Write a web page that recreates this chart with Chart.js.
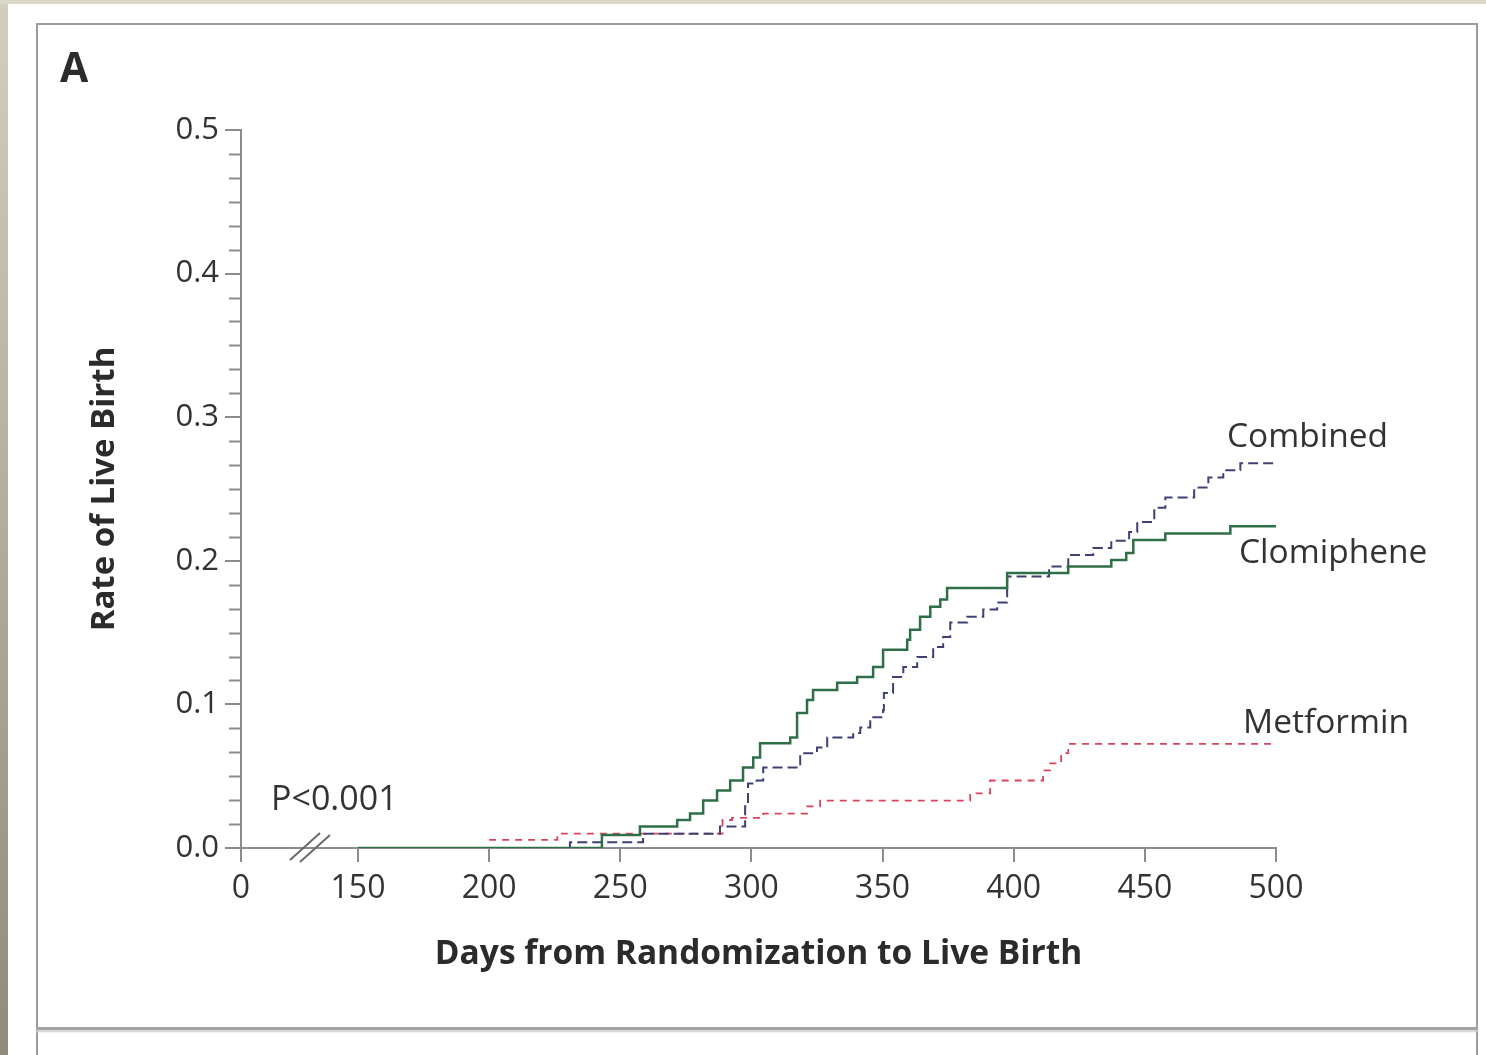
<!DOCTYPE html>
<html lang="en">
<head>
<meta charset="UTF-8">
<title>Rate of Live Birth</title>
<script src="https://cdn.jsdelivr.net/npm/chart.js"></script>
<style>
    html, body { margin: 0; padding: 0; }
    body {
        width: 1486px;
        height: 1055px;
        position: relative;
        overflow: hidden;
        background: #fff;
        font-family: "Open Sans", sans-serif;
    }
    .strip-left { position: absolute; left: 0; top: 0; width: 8px; height: 1055px; background: linear-gradient(#d3cfbf, #8f8c7b); }
    .strip-top { position: absolute; left: 0; top: 0; width: 1486px; height: 4px; background: #dcd8c8; }
    .frame { position: absolute; left: 36px; top: 23px; width: 1442px; height: 1100px; border: 2px solid #9c9c9c; box-sizing: border-box; }
    .divider { position: absolute; left: 36px; top: 1027px; width: 1442px; height: 3px; background: #a4a4a4; box-shadow: 0 2px 2px #d0d0d0; }
    #wrap { position: absolute; left: 0; top: 0; width: 1486px; height: 1055px; }
</style>
</head>
<body>
<div class="strip-left"></div>
<div class="strip-top"></div>
<div class="frame"></div>
<div class="divider"></div>
<div id="wrap"><canvas id="km" width="1486" height="1055"></canvas></div>

<script>
    // broken x axis: this value sits where the "0" tick is drawn
    const X_ZERO = 105.4;
    const xTickValues = [150, 200, 250, 300, 350, 400, 450, 500];
    const yTickValues = [0, 0.1, 0.2, 0.3, 0.4, 0.5];

    const clomipheneDays = [150, 243, 257.5, 271.7, 276.6, 281.6, 286.9, 291.9, 296.8, 300.7, 303.3,
        314.8, 317.4, 321.2, 323.5, 332.7, 340.3, 346.4, 350.2, 359.4, 360.5, 364.3, 368.2, 372, 374.6,
        397.5, 420.8, 437.2, 442.9, 445.6, 457.8, 482.6, 500];
    const clomipheneRates = [0, 0.009, 0.015, 0.0195, 0.024, 0.033, 0.040, 0.047, 0.056, 0.063, 0.073,
        0.077, 0.094, 0.103, 0.110, 0.115, 0.119, 0.126, 0.138, 0.145, 0.152, 0.161, 0.168, 0.173, 0.181,
        0.1915, 0.196, 0.2005, 0.2055, 0.2145, 0.219, 0.224, 0.224];

    const combinedDays = [150, 230.8, 258.7, 288, 297.6, 298.7, 302, 304.5, 318.6, 325, 328.9,
        338.8, 341.5, 345.3, 350.2, 350.5, 354, 357.9, 363.2, 369.3, 373.1, 375.8, 382.3, 388.4, 393.7,
        397.5, 413.5, 420.8, 430.3, 437.2, 444, 447.1, 453.6, 457.8, 468.8, 474.2, 479.9, 486.4, 500];
    const combinedRates = [0, 0.004, 0.010, 0.015, 0.029, 0.045, 0.047, 0.056, 0.066, 0.070, 0.077,
        0.080, 0.084, 0.091, 0.096, 0.108, 0.119, 0.126, 0.133, 0.140, 0.147, 0.157, 0.161, 0.166, 0.171,
        0.189, 0.196, 0.204, 0.209, 0.214, 0.220, 0.227, 0.237, 0.244, 0.251, 0.258, 0.263, 0.268, 0.268];

    const metforminDays = [200, 226, 289, 292.6, 304.5, 321.2, 326.2, 383.4, 391, 411.2, 413.9, 418.1, 420.8, 500];
    const metforminRates = [0.0056, 0.010, 0.0195, 0.021, 0.024, 0.029, 0.033, 0.038, 0.047, 0.054, 0.059, 0.066, 0.0725, 0.0725];

    const seriesLabels = ['Combined', 'Clomiphene', 'Metformin'];

    function points(days, rates) {
        return days.map((d, i) => ({ x: d, y: rates[i] }));
    }

    const axisColor = '#8c8c8c';
    const textColor = '#2b2b2b';

    // minor ticks, break marks and the text written on the plot
    const extras = {
        id: 'extras',
        afterDraw(chart) {
            const ctx = chart.ctx;
            const y = chart.scales.y;
            const left = chart.chartArea.left;

            ctx.save();
            ctx.strokeStyle = axisColor;
            ctx.lineWidth = 2;
            for (let k = 0; k <= 30; k++) {
                if (k % 6 === 0) continue;
                const py = Math.round(y.getPixelForValue(k / 60)) + 0.5;
                ctx.beginPath();
                ctx.moveTo(left - 12, py);
                ctx.lineTo(left, py);
                ctx.stroke();
            }

            // axis break
            ctx.strokeStyle = '#6a6a6a';
            ctx.lineWidth = 2;
            ctx.beginPath();
            ctx.moveTo(290, 860); ctx.lineTo(320, 833);
            ctx.moveTo(300, 862); ctx.lineTo(330, 835);
            ctx.stroke();

            ctx.fillStyle = textColor;
            ctx.textBaseline = 'middle';
            ctx.textAlign = 'left';
            ctx.font = 'bold 41px "Open Sans"';
            ctx.fillText('A', 60, 70);

            ctx.fillStyle = '#333';
            ctx.font = '34px "Open Sans"';
            ctx.fillText('P<0.001', 271, 800);
            ctx.font = '33.5px "Open Sans"';
            ctx.fillText(seriesLabels[0], 1227, 437);
            ctx.fillText(seriesLabels[1], 1239, 553);
            ctx.fillText(seriesLabels[2], 1243, 723);
            ctx.restore();
        }
    };

    const ctx = document.getElementById('km').getContext('2d');
    new Chart(ctx, {
        type: 'line',
        data: {
            datasets: [
                {
                    label: 'Clomiphene',
                    data: points(clomipheneDays, clomipheneRates),
                    borderColor: '#2e6f47',
                    borderWidth: 2.5,
                    stepped: 'before',
                    pointRadius: 0,
                    fill: false
                },
                {
                    label: 'Combined',
                    data: points(combinedDays, combinedRates),
                    borderColor: '#3f4074',
                    borderWidth: 2,
                    borderDash: [10, 5],
                    stepped: 'before',
                    pointRadius: 0,
                    fill: false
                },
                {
                    label: 'Metformin',
                    data: points(metforminDays, metforminRates),
                    borderColor: '#d9455c',
                    borderWidth: 1.8,
                    borderDash: [7, 6],
                    stepped: 'before',
                    pointRadius: 0,
                    fill: false
                }
            ]
        },
        options: {
            responsive: false,
            animation: false,
            layout: { padding: { top: 130, right: 210, bottom: 0, left: 0 } },
            plugins: {
                legend: { display: false },
                tooltip: { enabled: false }
            },
            scales: {
                x: {
                    type: 'linear',
                    min: X_ZERO,
                    max: 500,
                    afterBuildTicks: s => { s.ticks = [X_ZERO, ...xTickValues].map(v => ({ value: v })); },
                    afterFit: s => { s.height = 207; },
                    ticks: {
                        callback: v => (v === X_ZERO ? '0' : String(v)),
                        font: { family: 'Open Sans', size: 32 },
                        color: '#333',
                        padding: 8,
                        autoSkip: false,
                        maxRotation: 0
                    },
                    grid: { drawOnChartArea: false, drawTicks: true, tickLength: 14, color: axisColor, lineWidth: 2 },
                    border: { display: true, color: axisColor, width: 2 },
                    title: {
                        display: true,
                        text: 'Days from Randomization to Live Birth',
                        font: { family: 'Open Sans', size: 33.5, weight: 'bold' },
                        color: textColor,
                        padding: { top: 0, bottom: 80 }
                    }
                },
                y: {
                    type: 'linear',
                    min: 0,
                    max: 0.5,
                    afterBuildTicks: s => { s.ticks = yTickValues.map(v => ({ value: v })); },
                    afterFit: s => { s.width = 241; },
                    ticks: {
                        callback: v => v.toFixed(1),
                        font: { family: 'Open Sans', size: 31 },
                        color: '#333',
                        padding: 6
                    },
                    grid: { drawOnChartArea: false, drawTicks: true, tickLength: 16, color: axisColor, lineWidth: 2 },
                    border: { display: true, color: axisColor, width: 2 },
                    title: {
                        display: true,
                        text: 'Rate of Live Birth',
                        font: { family: 'Open Sans', size: 33, weight: 'bold' },
                        color: textColor,
                        padding: { top: 85, bottom: 0 }
                    }
                }
            }
        },
        plugins: [extras]
    });
</script>
</body>
</html>
